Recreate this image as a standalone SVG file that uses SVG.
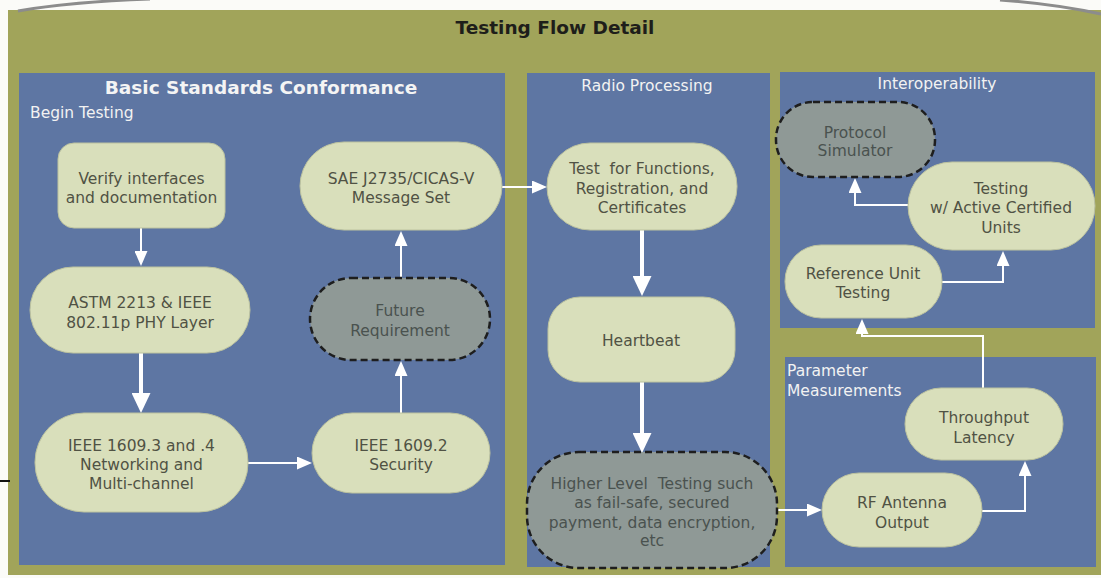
<svg xmlns="http://www.w3.org/2000/svg" width="1101" height="578" viewBox="0 0 1101 578">
  <style>
    .panel { fill: #5e76a3; }
    .node { fill: #d9dfbb; stroke: #bcc29f; stroke-width: 1; }
    .future { fill: #8f9996; stroke: #1e1e1e; stroke-width: 2.5; stroke-dasharray: 7 4; }
    .txt { font-family: "DejaVu Sans", Verdana, sans-serif; font-size: 15.5px; fill: #505244; text-anchor: middle; }
    .ftxt { font-family: "DejaVu Sans", Verdana, sans-serif; font-size: 15.5px; fill: #4a524f; text-anchor: middle; }
    .ptitle { font-family: "DejaVu Sans", Verdana, sans-serif; font-size: 15.5px; fill: #f2f2f2; }
    .thin { fill: none; stroke: #ffffff; stroke-width: 2; }
    .thick { fill: none; stroke: #ffffff; stroke-width: 4; }
  </style>
  <defs>
    <marker id="headThin" markerUnits="userSpaceOnUse" markerWidth="15" markerHeight="13" refX="9" refY="6.5" orient="auto">
      <path d="M0,0 L15,6.5 L0,13 Z" fill="#ffffff"/>
    </marker>
    <marker id="headThick" markerUnits="userSpaceOnUse" markerWidth="20" markerHeight="19" refX="10" refY="9.5" orient="auto">
      <path d="M0,0 L20,9.5 L0,19 Z" fill="#ffffff"/>
    </marker>
  </defs>

  <!-- page background and frame -->
  <rect x="0" y="0" width="1101" height="578" fill="#fbfbf8"/>
  <rect x="8" y="10" width="1093" height="565" fill="#a1a45a"/>
  <path d="M18,11 Q70,2 150,-1" fill="none" stroke="#8c8c8c" stroke-width="3"/>
  <path d="M1000,0 Q1055,4 1101,14" fill="none" stroke="#8c8c8c" stroke-width="3"/>
  <line x1="0" y1="481" x2="10" y2="481" stroke="#111111" stroke-width="2"/>

  <text x="555" y="34" font-family="'DejaVu Sans', Verdana, sans-serif" font-size="18.5" font-weight="bold" fill="#1e1e1a" text-anchor="middle">Testing Flow Detail</text>

  <!-- swimlane panels -->
  <g id="panel-basic">
    <rect class="panel" x="19" y="73" width="486" height="492"/>
    <text x="261" y="94" font-family="'DejaVu Sans', Verdana, sans-serif" font-size="18.5" font-weight="bold" fill="#f4f4f4" text-anchor="middle">Basic Standards Conformance</text>
    <text class="ptitle" x="30" y="118" font-size="13.5">Begin Testing</text>
  </g>
  <g id="panel-radio">
    <rect class="panel" x="527" y="73" width="243" height="494"/>
    <text class="ptitle" x="647" y="91" text-anchor="middle">Radio Processing</text>
  </g>
  <g id="panel-interop">
    <rect class="panel" x="780" y="72" width="315" height="256"/>
    <text class="ptitle" x="937" y="89" text-anchor="middle">Interoperability</text>
  </g>
  <g id="panel-param">
    <rect class="panel" x="785" y="357" width="311" height="210"/>
    <text class="ptitle" x="787" y="376">Parameter</text>
    <text class="ptitle" x="787" y="396">Measurements</text>
  </g>

  <!-- connectors -->
  <g id="connectors">
    <path class="thin" d="M141,228 V260" marker-end="url(#headThin)"/>
    <path class="thick" d="M141,353 V403" marker-end="url(#headThick)"/>
    <path class="thin" d="M248,463 H306" marker-end="url(#headThin)"/>
    <path class="thin" d="M401,413 V367" marker-end="url(#headThin)"/>
    <path class="thin" d="M401,278 V237" marker-end="url(#headThin)"/>
    <path class="thin" d="M502,187 H541" marker-end="url(#headThin)"/>
    <path class="thick" d="M642,230 V286" marker-end="url(#headThick)"/>
    <path class="thick" d="M642,382 V443" marker-end="url(#headThick)"/>
    <path class="thin" d="M777,510 H816" marker-end="url(#headThin)"/>
    <path class="thin" d="M982,511 H1025 V467" marker-end="url(#headThin)"/>
    <path class="thin" d="M983,388 V336 H862 V325" marker-end="url(#headThin)"/>
    <path class="thin" d="M942,282 H1003 V257" marker-end="url(#headThin)"/>
    <path class="thin" d="M908,205 H855 V184" marker-end="url(#headThin)"/>
  </g>

  <!-- Basic Standards Conformance nodes -->
  <g id="verify-interfaces">
    <rect class="node" x="58" y="143" width="167" height="85" rx="16"/>
    <text class="txt" x="141.5" y="183.5">Verify interfaces</text>
    <text class="txt" x="141.5" y="202.5">and documentation</text>
  </g>
  <g id="astm-phy">
    <rect class="node" x="30" y="267" width="220" height="86" rx="43"/>
    <text class="txt" x="140" y="307.5">ASTM 2213 &amp; IEEE</text>
    <text class="txt" x="140" y="327.5">802.11p PHY Layer</text>
  </g>
  <g id="ieee-1609-3">
    <rect class="node" x="35" y="413" width="213" height="99" rx="49"/>
    <text class="txt" x="141.5" y="450.5">IEEE 1609.3 and .4</text>
    <text class="txt" x="141.5" y="469.5">Networking and</text>
    <text class="txt" x="141.5" y="488.5">Multi-channel</text>
  </g>
  <g id="ieee-1609-2">
    <rect class="node" x="312" y="413" width="178" height="80" rx="40"/>
    <text class="txt" x="401" y="450.5">IEEE 1609.2</text>
    <text class="txt" x="401" y="469.5">Security</text>
  </g>
  <g id="future-requirement">
    <rect class="future" x="310" y="278" width="180" height="82" rx="41"/>
    <text class="ftxt" x="400" y="315.5">Future</text>
    <text class="ftxt" x="400" y="335.5">Requirement</text>
  </g>
  <g id="sae-j2735">
    <rect class="node" x="300" y="142" width="202" height="88" rx="44"/>
    <text class="txt" x="401" y="183.5">SAE J2735/CICAS-V</text>
    <text class="txt" x="401" y="202.5">Message Set</text>
  </g>

  <!-- Radio Processing nodes -->
  <g id="functions-registration">
    <rect class="node" x="547" y="143" width="190" height="87" rx="43"/>
    <text class="txt" x="642" y="173.5" xml:space="preserve">Test  for Functions,</text>
    <text class="txt" x="642" y="193.5">Registration, and</text>
    <text class="txt" x="642" y="212.5">Certificates</text>
  </g>
  <g id="heartbeat">
    <rect class="node" x="548" y="297" width="187" height="85" rx="32" stroke="#9c9f86" stroke-width="2"/>
    <text class="txt" x="641" y="345.5">Heartbeat</text>
  </g>
  <g id="higher-level-testing">
    <rect class="future" x="527" y="452" width="250" height="116" rx="52"/>
    <text class="ftxt" x="652" y="488.5" xml:space="preserve">Higher Level  Testing such</text>
    <text class="ftxt" x="652" y="507.5">as fail-safe, secured</text>
    <text class="ftxt" x="652" y="527.5">payment, data encryption,</text>
    <text class="ftxt" x="652" y="545.5">etc</text>
  </g>

  <!-- Parameter Measurements nodes -->
  <g id="rf-antenna">
    <rect class="node" x="822" y="473" width="160" height="74" rx="37"/>
    <text class="txt" x="902" y="507.5">RF Antenna</text>
    <text class="txt" x="902" y="527.5">Output</text>
  </g>
  <g id="throughput-latency">
    <rect class="node" x="905" y="388" width="158" height="72" rx="36"/>
    <text class="txt" x="984" y="422.5">Throughput</text>
    <text class="txt" x="984" y="442.5">Latency</text>
  </g>

  <!-- Interoperability nodes -->
  <g id="reference-unit">
    <rect class="node" x="785" y="245" width="157" height="73" rx="36"/>
    <text class="txt" x="863" y="278.5">Reference Unit</text>
    <text class="txt" x="863" y="297.5">Testing</text>
  </g>
  <g id="active-certified">
    <rect class="node" x="908" y="162" width="187" height="88" rx="44"/>
    <text class="txt" x="1001" y="193.5">Testing</text>
    <text class="txt" x="1001" y="212.5">w/ Active Certified</text>
    <text class="txt" x="1001" y="232.5">Units</text>
  </g>
  <g id="protocol-simulator">
    <rect class="future" x="776" y="102" width="159" height="75" rx="37"/>
    <text class="ftxt" x="855" y="137.5">Protocol</text>
    <text class="ftxt" x="855" y="155.5">Simulator</text>
  </g>
</svg>
